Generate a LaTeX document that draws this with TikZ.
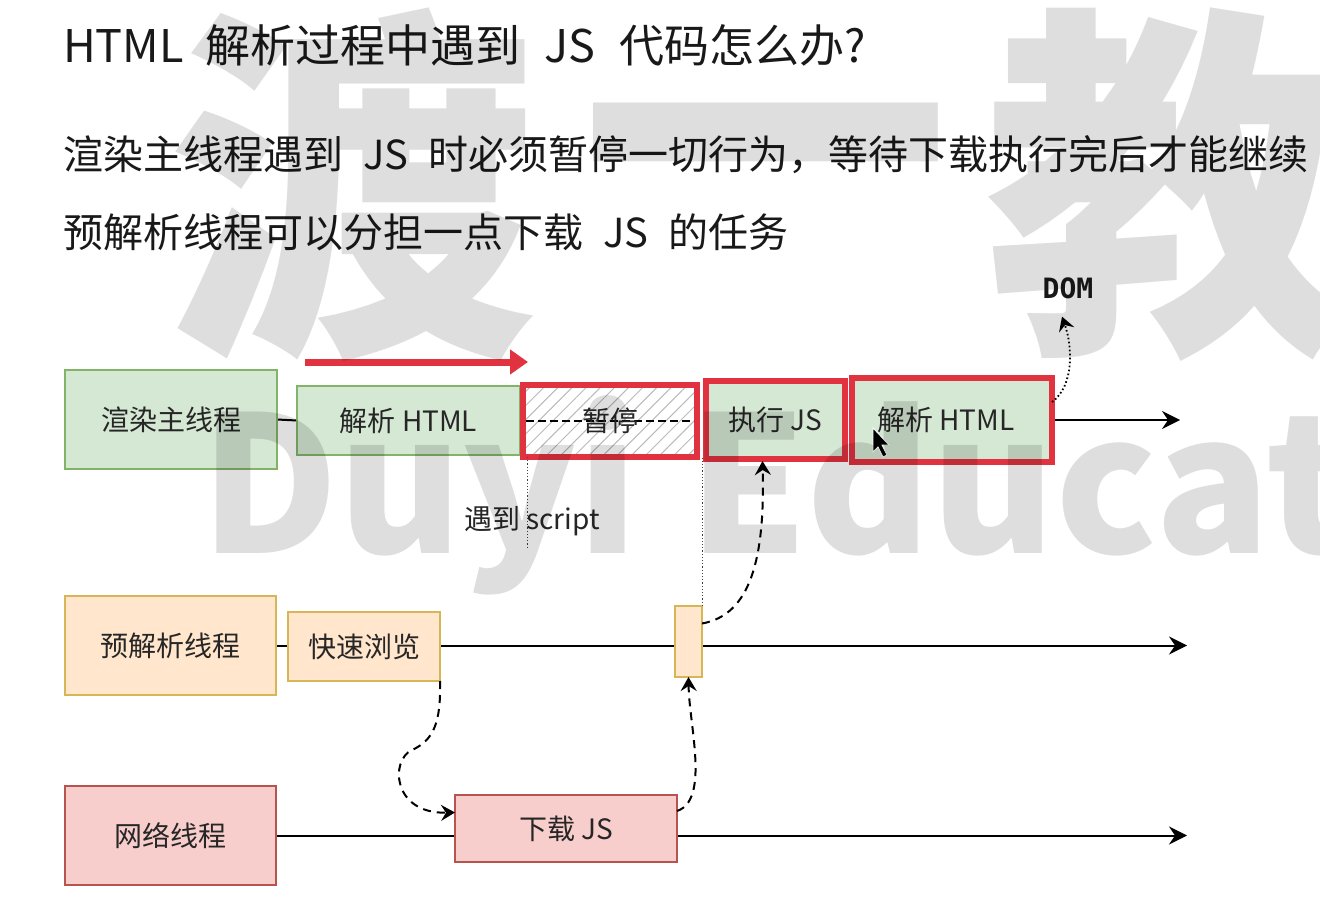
\documentclass[tikz,border=0pt]{standalone}
\usepackage{fontspec}
\setmainfont{Noto Sans CJK SC}
\newfontfamily\monofont{DejaVu Sans Mono}
\usetikzlibrary{arrows.meta,patterns.meta}
\definecolor{gfill}{HTML}{D5E8D4}
\definecolor{gdraw}{HTML}{82B366}
\definecolor{ofill}{HTML}{FFE6CC}
\definecolor{odraw}{HTML}{D6B656}
\definecolor{pfill}{HTML}{F8CECC}
\definecolor{pdraw}{HTML}{B85450}
\definecolor{hred}{HTML}{E0323F}
\pgfdeclarelayer{bg}
\pgfsetlayers{bg,main}
\begin{document}
\begin{tikzpicture}[x=0.5pt,y=-0.5pt,
  every node/.style={inner sep=0pt,outer sep=0pt},
  box/.style={draw,line width=1pt,font=\fontsize{14}{16}\selectfont,text=black!85},
  gbox/.style={box,fill=gfill,draw=gdraw},
  obox/.style={box,fill=ofill,draw=odraw},
  pbox/.style={box,fill=pfill,draw=pdraw},
  redframe/.style={draw=hred,line width=3pt},
  tline/.style={line width=1pt,black},
  tarrow/.style={tline,-{Stealth[length=9pt,width=9pt,inset=3pt]}},
  dasharrow/.style={line width=1pt,dash pattern=on 4pt off 3pt,-{Stealth[length=7pt,width=8pt,inset=2.5pt]}},
  dotarrow/.style={line width=0.9pt,dash pattern=on 0.8pt off 1.2pt,-{Stealth[length=7pt,width=8pt,inset=2.5pt]}},
  dotline/.style={line width=0.5pt,dash pattern=on 0.6pt off 1pt,black!75},
  heading/.style={anchor=west,font=\fontsize{22.5}{26}\selectfont,text=black!90},
  bodytext/.style={anchor=west,font=\fontsize{20}{24}\selectfont,text=black!90},
  lbl/.style={font=\fontsize{14}{16}\selectfont,text=black!85},
  wm/.style={text=black,opacity=0.13,font=\bfseries\fontsize{185}{185}\selectfont}
]
\useasboundingbox (0,0) rectangle (1320,903);

% texts
\node[heading] (title) at (63,45) {HTML\hspace{11pt}解析过程中遇到\hspace{12pt}JS\hspace{12pt}代码怎么办?};
\node[bodytext] (line1) at (63,155) {渲染主线程遇到\hspace{10pt}JS\hspace{10pt}时必须暂停一切行为，等待下载执行完后才能继续};
\node[bodytext] (line2) at (63,232) {预解析线程可以分担一点下载\hspace{10pt}JS\hspace{10pt}的任务};

% main thread row
\node[gbox,minimum width=106pt,minimum height=49.5pt] (main) at (171,419.5) {渲染主线程};
\node[gbox,minimum width=111.5pt,minimum height=34.5pt] (parse1) at (408.5,420.5) {解析 HTML};
\node[redframe,minimum width=87pt,minimum height=36pt,pattern={Lines[angle=45,distance=5pt,line width=0.5pt]},pattern color=gray!55] (pause) at (610,421) {};
\draw[line width=0.8pt,dash pattern=on 4pt off 2pt] ([xshift=1.5pt]pause.west) -- ([xshift=-1.5pt]pause.east);
\node[lbl] (pauselbl) at (pause.center) {暂停};
\node[gbox,redframe,minimum width=69.5pt,minimum height=39pt] (exec) at (775.5,420) {执行 JS};
\node[gbox,redframe,minimum width=100pt,minimum height=42pt] (parse2) at (952,420) {\hspace{-6pt}解析 HTML};
\coordinate (mainend) at (1180,420);

% red progress arrow
\coordinate (ra1) at (305,362);
\coordinate (ra2) at (528,362);
\draw[hred,line width=3.5pt,-{Triangle[length=9pt,width=12pt]}] (ra1) -- (ra2);

% DOM
\node[font=\monofont\bfseries\fontsize{14}{16}\selectfont,text=black!90] (dom) at (1068,288) {DOM};
\draw[dotarrow] ([yshift=9pt]parse2.east) .. controls (1075,385) and (1072,345) .. ([yshift=-9pt,xshift=-3pt]dom.south);

% script marker
\coordinate (scr) at (527,548);
\draw[dotline] (pause.south west -| scr) -- (scr);
\node[lbl] (scrlbl) at (532,521) {遇到 script};

% preparse row
\node[obox,minimum width=105.5pt,minimum height=49.5pt] (pre) at (170.5,645.5) {预解析线程};
\node[obox,minimum width=76pt,minimum height=34.5pt] (quick) at (364,646.5) {快速浏览};
\node[obox,minimum width=13.5pt,minimum height=35.5pt] (small) at (688.5,641.5) {};
\coordinate (preend) at (1187,645.5);
\draw[dotline] (small.north east) -- (small.north east |- pause.south);

% network row
\node[pbox,minimum width=105.5pt,minimum height=49.5pt] (net) at (170.5,835.5) {网络线程};
\node[pbox,minimum width=111pt,minimum height=33.5pt] (dl) at (566,828.5) {下载 JS};
\coordinate (netend) at (1187,835.5);

% timelines
\begin{pgfonlayer}{bg}
\draw[tline] (main.east) -- (parse1.west);
\draw[tarrow] (parse2.east) -- (mainend);
\draw[tarrow] (pre.east) -- (preend);
\draw[tarrow] (net.east) -- (netend);
\end{pgfonlayer}

% dashed flows
\draw[dasharrow] (quick.south east) .. controls (441,722) and (434,740) .. (412,750) .. controls (390,760) and (392,814) .. ([yshift=8pt]dl.west);
\draw[dasharrow] ([yshift=-8pt]dl.north east) .. controls (710,800) and (689,725) .. (small.south);
\draw[dasharrow] ([yshift=9pt]small.east) .. controls (750,615) and (765,560) .. ([xshift=-6.5pt,yshift=-1pt]exec.south);

% mouse cursor
\fill[black,draw=white,line width=0.4pt] (873,428) -- (873,452) -- (878,447) -- (883,457) -- (887,455) -- (882,445) -- (889,445) -- cycle;

% watermark
\node[wm] (wm1) at (352,185) {渡};
\node[wm] (wm2) at (765,190) {一};
\node[wm] (wm3) at (1170,185) {教};
\node[wm,font=\bfseries\fontsize{95}{95}\selectfont,anchor=base west] (wm4) at (200,553) {Duyi\hspace{25pt}Education};
\end{tikzpicture}
\end{document}
